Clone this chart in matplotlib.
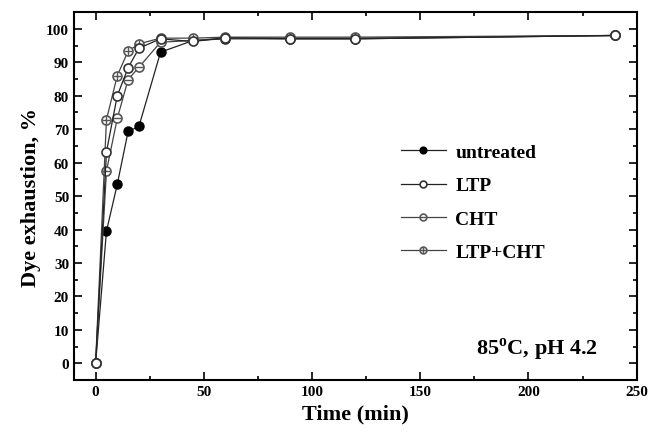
import matplotlib
matplotlib.use("Agg")
import matplotlib.pyplot as plt
from matplotlib.legend_handler import HandlerTuple
from matplotlib.ticker import MultipleLocator

plt.rcParams['font.family'] = ['Liberation Serif', 'DejaVu Serif']
plt.rcParams['font.weight'] = 'bold'

time = [0, 5, 10, 15, 20, 30, 45, 60, 90, 120, 240]
untreated = [0, 39.5, 53.5, 69.3, 70.8, 93.0, 96.5, 97.0, 97.0, 97.0, 98.0]
ltp = [0, 63.2, 80.0, 88.3, 94.2, 97.0, 96.2, 97.3, 97.0, 97.0, 98.0]
cht = [0, 57.5, 73.2, 84.8, 88.5, 96.0, 96.5, 97.2, 97.2, 97.2, 98.0]
ltp_cht = [0, 72.8, 86.0, 93.3, 95.5, 97.2, 97.2, 97.5, 97.5, 97.5, 98.0]
labels = ['untreated', 'LTP', 'CHT', 'LTP+CHT']

fig = plt.figure(figsize=(6.49, 4.35), dpi=100)
ax = fig.add_axes([0.114, 0.124, 0.867, 0.846])

handles = []
# untreated
l1, = ax.plot(time, untreated, '-', color='#222222', lw=0.9, marker='o', ms=6.5,
              mfc='black', mec='black', zorder=3)
handles.append(l1)
# LTP
l2, = ax.plot(time, ltp, '-', color='#222222', lw=0.9, marker='o', ms=6.5,
              mfc='white', mec='#333333', mew=1.2, zorder=4)
handles.append(l2)
# CHT
l3, = ax.plot(time, cht, '-', color='#444444', lw=0.9, marker='o', ms=6.5,
              mfc='white', mec='#555555', mew=1.2, zorder=3)
o3, = ax.plot(time, cht, ls='none', marker='_', ms=5.5, mec='#555555', mew=1.0, zorder=3.1)
handles.append((l3, o3))
# LTP+CHT
l4, = ax.plot(time, ltp_cht, '-', color='#444444', lw=0.9, marker='o', ms=6.5,
              mfc='white', mec='#555555', mew=1.2, zorder=3)
o4, = ax.plot(time, ltp_cht, ls='none', marker='+', ms=5.5, mec='#555555', mew=1.0, zorder=3.1)
handles.append((l4, o4))

ax.set_xlim(-10, 250)
ax.set_ylim(-5, 105)
ax.xaxis.set_major_locator(MultipleLocator(50))
ax.xaxis.set_minor_locator(MultipleLocator(25))
ax.yaxis.set_major_locator(MultipleLocator(10))
ax.yaxis.set_minor_locator(MultipleLocator(5))
ax.tick_params(which='both', direction='in', top=True, right=True, labelsize=11, width=1.2)
ax.tick_params(which='major', length=6)
ax.tick_params(which='minor', length=3)
for s in ax.spines.values():
    s.set_linewidth(1.5)

ax.set_xlabel('Time (min)', fontsize=16, fontweight='bold')
ax.set_ylabel('Dye exhaustion, %', fontsize=16, fontweight='bold')

leg = ax.legend(handles, labels, loc='upper left', bbox_to_anchor=(0.55, 0.69),
                frameon=False, handlelength=2.3, labelspacing=0.8, markerscale=0.75,
                handletextpad=0.5,
                handler_map={tuple: HandlerTuple(ndivide=1, pad=0)},
                prop={'weight': 'bold', 'size': 14})

ax.text(232, 4.2, '85$^\\mathregular{o}$C, pH 4.2', ha='right', va='center',
        fontsize=16, fontweight='bold')

fig.savefig('out.png', dpi=100)
